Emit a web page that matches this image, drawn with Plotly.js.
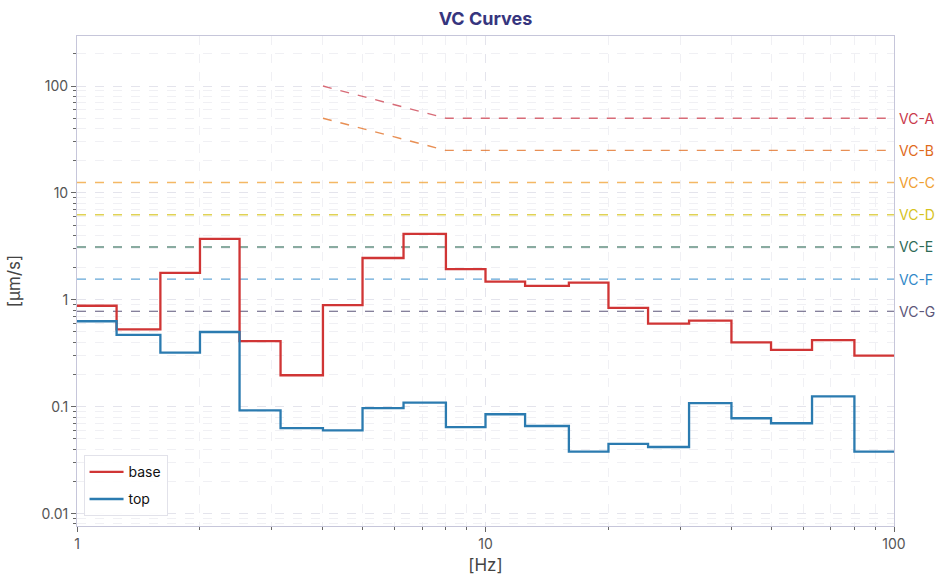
<!DOCTYPE html>
<html>
<head>
<meta charset="utf-8">
<script src="https://cdn.plot.ly/plotly-3.0.1.min.js"></script>
<style>
  html, body { margin: 0; padding: 0; background: #fff; }
  #chart { width: 949px; height: 587px; }
</style>
</head>
<body>
<div id="chart"></div>
<script>
// third-octave band edges [Hz]
const bandEdges = [1, 1.25, 1.6, 2, 2.5, 3.15, 4, 5, 6.3, 8, 10,
                   12.5, 16, 20, 25, 31.5, 40, 50, 63, 80, 100];

// band levels [µm/s]
const baseVals = [0.88, 0.53, 1.79, 3.72, 0.41, 0.197, 0.89, 2.46, 4.13, 1.94,
                  1.48, 1.35, 1.45, 0.84, 0.60, 0.64, 0.40, 0.34, 0.42, 0.30];
const topVals = [0.63, 0.47, 0.32, 0.50, 0.0925, 0.063, 0.060, 0.097, 0.109, 0.0645,
                 0.085, 0.066, 0.038, 0.045, 0.042, 0.108, 0.078, 0.070, 0.125, 0.038];

// vibration criterion curves
const vcNames = ['VC-A', 'VC-B', 'VC-C', 'VC-D', 'VC-E', 'VC-F', 'VC-G'];
const vcFreqs = [
  [4, 8, 100],
  [4, 8, 100],
  [1, 100],
  [1, 100],
  [1, 100],
  [1, 100],
  [1, 100]
];
const vcLevels = [
  [100, 50, 50],
  [50, 25, 25],
  [12.5, 12.5],
  [6.25, 6.25],
  [3.12, 3.12],
  [1.56, 1.56],
  [0.78, 0.78]
];
const vcColors = ['#c9394a', '#e06a1b', '#f0a030', '#d6c31c', '#2d6a55', '#2f88c8', '#5c5679'];

function hexA(hex, a) {
  const n = parseInt(hex.slice(1), 16);
  return 'rgba(' + (n >> 16) + ',' + ((n >> 8) & 255) + ',' + (n & 255) + ',' + a + ')';
}

const traces = [];
const annotations = [];

vcNames.forEach((name, i) => {
  traces.push({
    x: vcFreqs[i],
    y: vcLevels[i],
    mode: 'lines',
    name: name,
    showlegend: false,
    hoverinfo: 'skip',
    line: { color: hexA(vcColors[i], 0.75), width: 1.4, dash: 'dash' }
  });
  const last = vcLevels[i][vcLevels[i].length - 1];
  annotations.push({
    x: 1, xref: 'paper', xanchor: 'left',
    y: Math.log10(last), yref: 'y', yanchor: 'middle',
    xshift: 3,
    text: name,
    showarrow: false,
    font: { size: 14, color: vcColors[i], family: 'Inter, sans-serif' }
  });
});

traces.push({
  x: bandEdges,
  y: baseVals.concat([baseVals[baseVals.length - 1]]),
  mode: 'lines',
  name: 'base',
  legendgroup: 'base',
  line: { color: '#d03535', width: 2.3, shape: 'hv' }
});
traces.push({
  x: bandEdges,
  y: topVals.concat([topVals[topVals.length - 1]]),
  mode: 'lines',
  name: 'top',
  legendgroup: 'top',
  line: { color: '#2b7bb0', width: 2.3, shape: 'hv' }
});

const minorY = [];
const minorX = [];
[0.001, 0.01, 0.1, 1, 10, 100].forEach(d => {
  for (let k = 2; k <= 9; k++) minorY.push(d * k);
});
[1, 10].forEach(d => {
  for (let k = 2; k <= 9; k++) minorX.push(d * k);
});

const axisBase = {
  type: 'log',
  showline: true,
  mirror: true,
  linecolor: '#c6c6da',
  linewidth: 1,
  ticks: 'outside',
  ticklen: 5,
  tickcolor: '#666',
  showgrid: true,
  gridcolor: '#e4e4ec',
  griddash: 'dash',
  gridwidth: 1,
  zeroline: false,
  tickfont: { size: 14, color: '#555', family: 'Inter, sans-serif' }
};

const layout = {
  width: 949,
  height: 587,
  paper_bgcolor: '#ffffff',
  plot_bgcolor: '#ffffff',
  font: { family: 'Inter, sans-serif', color: '#444' },
  margin: { l: 77, r: 55, t: 36, b: 61 },
  title: {
    text: '<b>VC Curves</b>',
    x: 0.5, xref: 'paper', y: 0.968, yanchor: 'middle',
    font: { size: 18, color: '#36357e', family: 'Inter, sans-serif' }
  },
  xaxis: Object.assign({}, axisBase, {
    range: [0, 2],
    tickvals: [1, 10, 100],
    ticktext: ['1', '10', '100'],
    minor: {
      tickvals: minorX, ticks: 'outside', ticklen: 3, tickcolor: '#666',
      showgrid: true, gridcolor: '#f0f0f4', griddash: 'dash'
    },
    title: { text: '[Hz]', font: { size: 17, color: '#444' }, standoff: 8 }
  }),
  yaxis: Object.assign({}, axisBase, {
    range: [-2.116, 2.468],
    tickvals: [0.01, 0.1, 1, 10, 100],
    ticktext: ['0.01', '0.1', '1', '10', '100'],
    minor: {
      tickvals: minorY, ticks: 'outside', ticklen: 3, tickcolor: '#666',
      showgrid: true, gridcolor: '#f0f0f4', griddash: 'dash'
    },
    title: { text: '[µm/s]', font: { size: 17, color: '#444' }, standoff: 16 }
  }),
  showlegend: true,
  legend: {
    x: 0.008, y: 0.02, xanchor: 'left', yanchor: 'bottom',
    bgcolor: 'rgba(255,255,255,0.9)',
    bordercolor: '#e2e2ea',
    borderwidth: 1,
    font: { size: 14, color: '#111', family: 'Inter, sans-serif' },
    tracegroupgap: 6,
    itemwidth: 34
  },
  annotations: annotations
};

Plotly.newPlot('chart', traces, layout, { displayModeBar: false, staticPlot: true });
</script>
</body>
</html>
